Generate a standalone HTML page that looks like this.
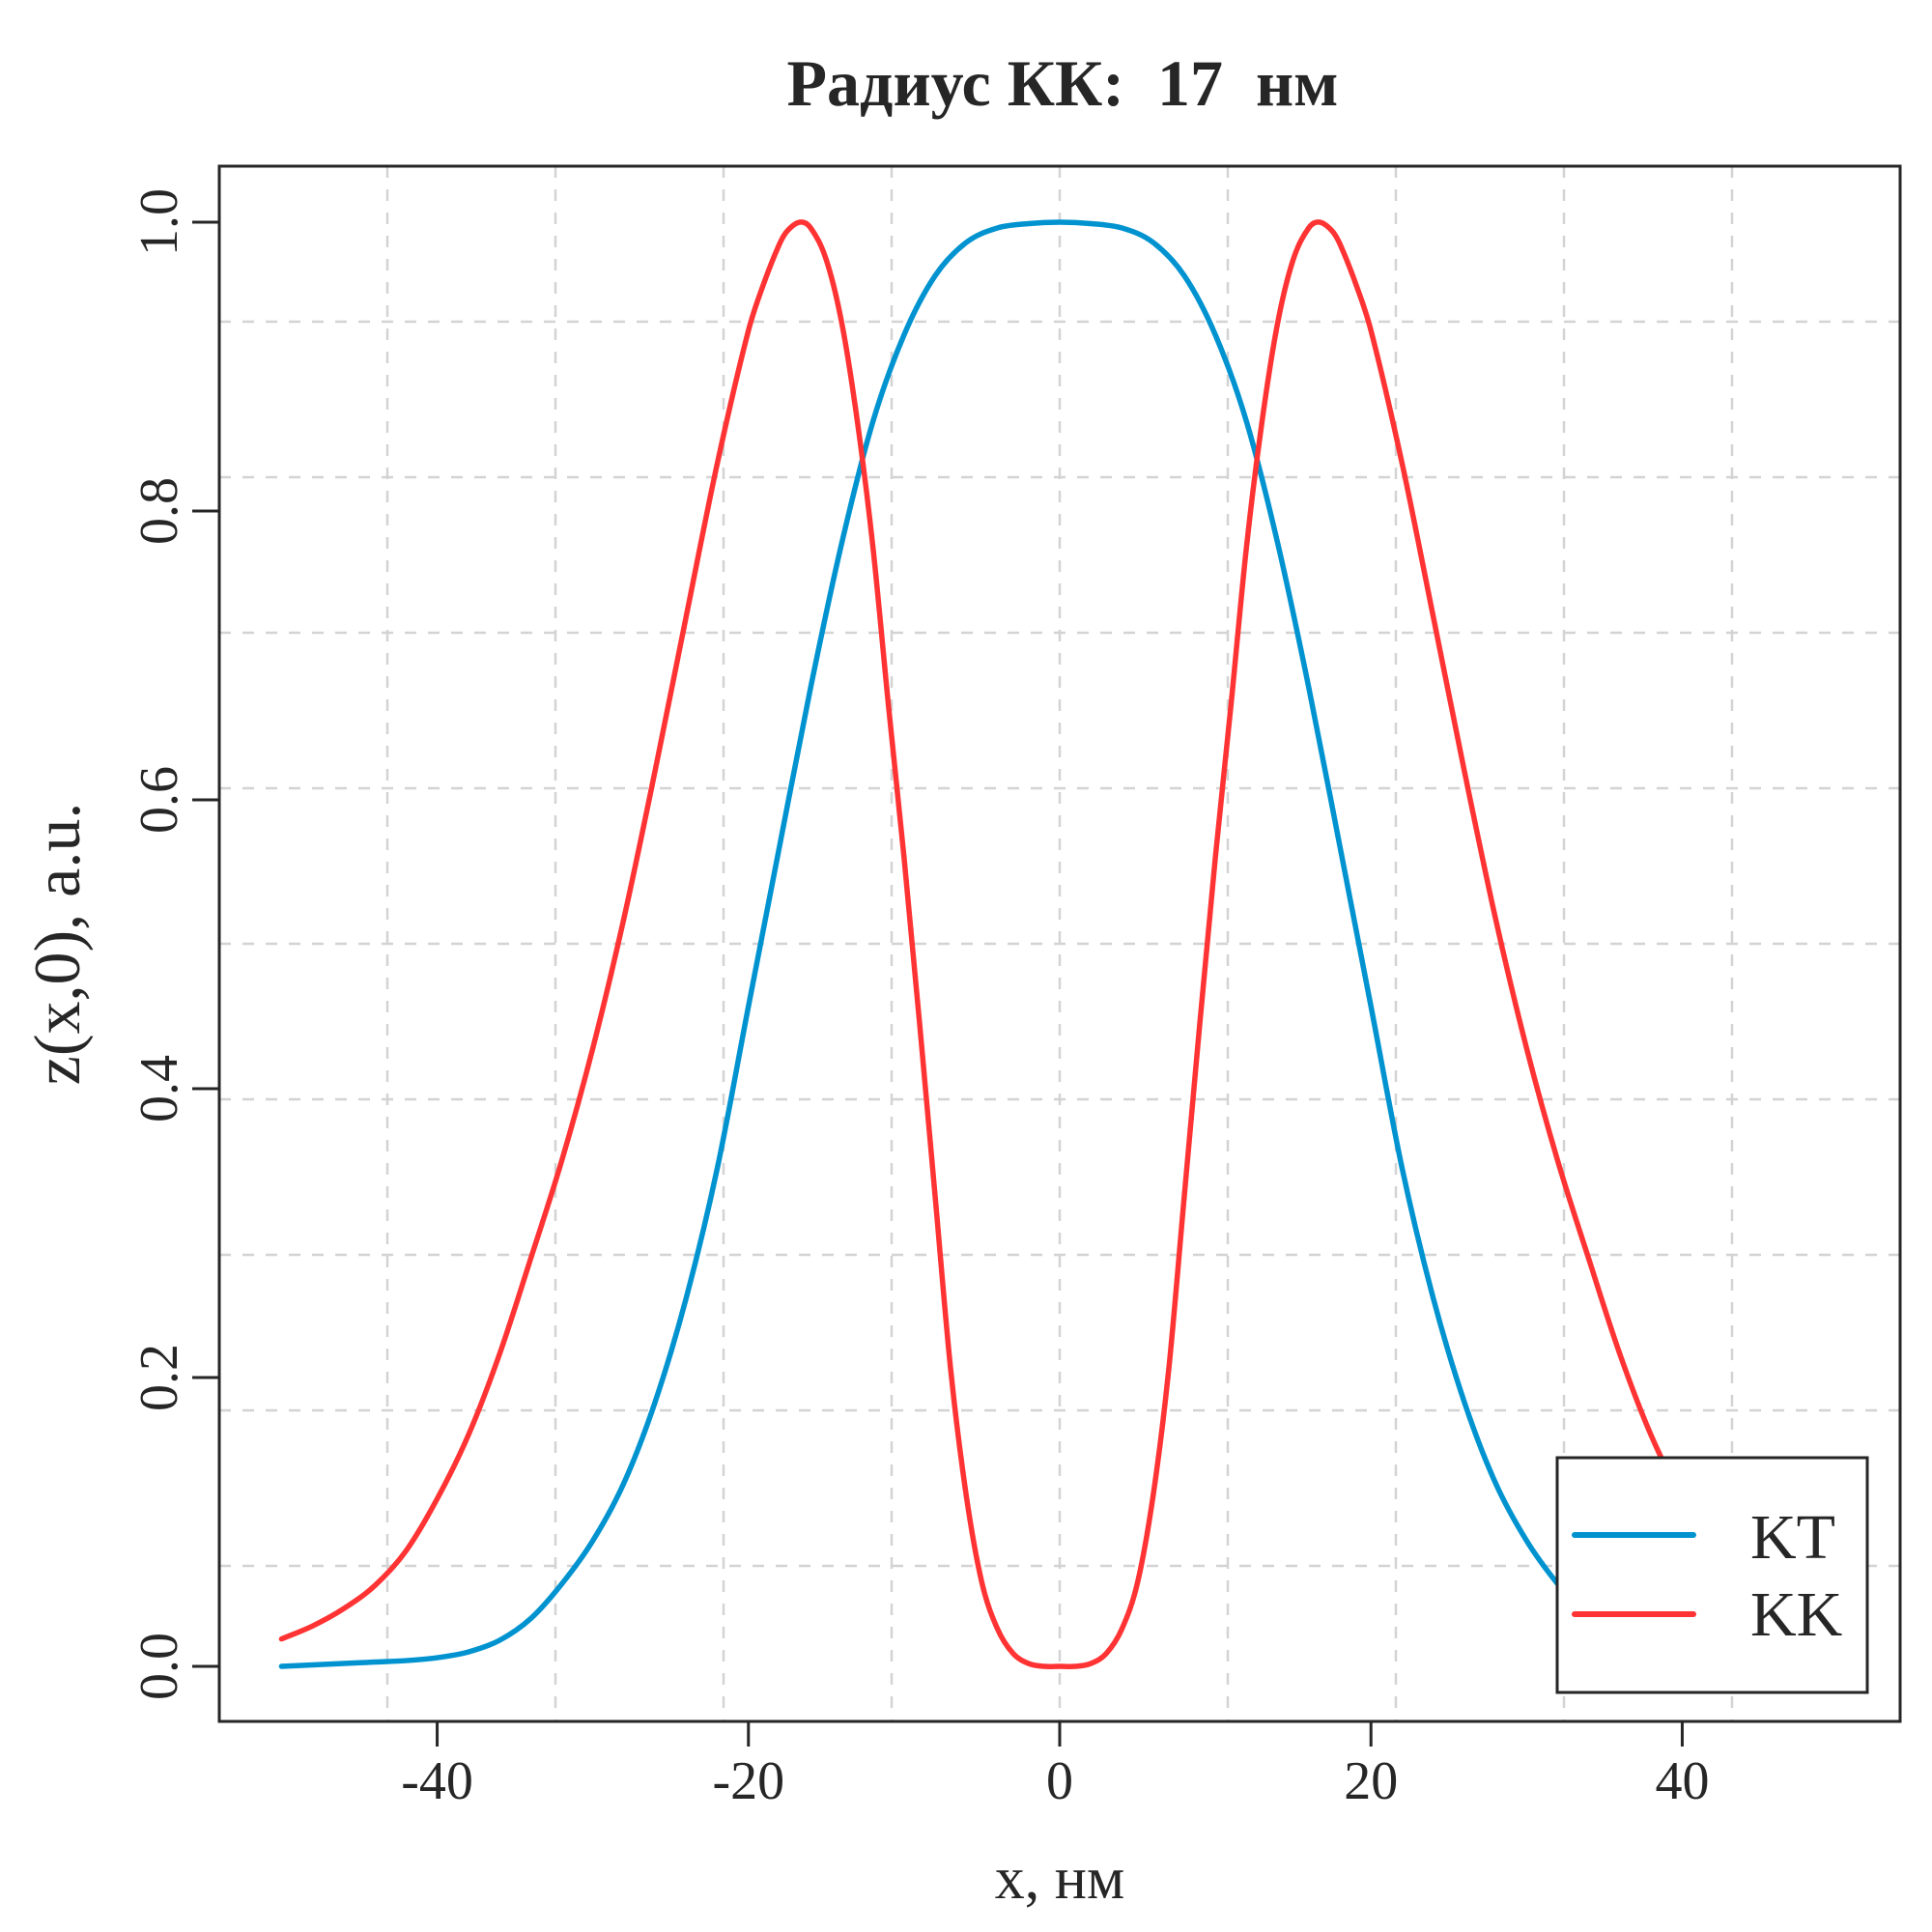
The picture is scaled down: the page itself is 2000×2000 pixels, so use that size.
<!DOCTYPE html>
<html><head><meta charset="utf-8"><style>
html,body{margin:0;padding:0;background:#fff;}
svg{display:block;font-family:"Liberation Serif","DejaVu Serif",serif;}
</style></head><body>
<svg id="chart" width="2000" height="2000" viewBox="0 0 2000 2000" xmlns="http://www.w3.org/2000/svg">
<rect x="0" y="0" width="2000" height="2000" fill="#fff"/>
<g id="grid"></g>
<g id="series"></g>
<rect x="227" y="172" width="1740" height="1610" fill="none" stroke="#262626" stroke-width="3"/>
<g id="axes"></g>
<text x="1100" y="109" text-anchor="middle" font-size="68" font-weight="bold" fill="#262626" xml:space="preserve">Радиус КК:  17  нм</text>
<text x="1097" y="1965" text-anchor="middle" font-size="62" fill="#262626">x, нм</text>
<text transform="translate(82,977) rotate(-90)" text-anchor="middle" font-size="68" fill="#262626">z(x,0), a.u.</text>
<g>
<rect x="1612" y="1509" width="321" height="243" fill="#fff" stroke="#262626" stroke-width="3"/>
<line x1="1630" y1="1589" x2="1753" y2="1589" stroke="#0093d0" stroke-width="6" stroke-linecap="round"/>
<text x="1812" y="1613" font-size="66" fill="#262626">KT</text>
<line x1="1630" y1="1671" x2="1753" y2="1671" stroke="#ff3333" stroke-width="6" stroke-linecap="round"/>
<text x="1812" y="1693" font-size="66" fill="#262626">KK</text>
</g>
</svg>
<script>
const ktX = [-50,-48,-46,-44,-42,-40,-38,-36,-34,-32,-30,-28,-26,-24,-22,-20,-18,-16,-14,-12,-10,-8,-6,-4,-2,0,2,4,6,8,10,12,14,16,18,20,22,24,26,28,30,32,34,36,38,40,42,44,46,48,50];
const ktY = [0.0,0.001,0.002,0.003,0.004,0.006,0.010,0.018,0.033,0.057,0.087,0.127,0.183,0.255,0.345,0.457,0.568,0.678,0.778,0.862,0.922,0.963,0.986,0.996,0.999,1.0,0.999,0.996,0.986,0.963,0.922,0.862,0.778,0.678,0.568,0.457,0.345,0.255,0.183,0.127,0.087,0.057,0.033,0.018,0.010,0.006,0.004,0.003,0.002,0.001,0.0];
const kkX = [-50,-48,-46,-44,-42,-40,-38,-36,-34,-32,-30,-28,-26,-24,-22,-20,-19,-18,-17.5,-16.7,-16,-15,-14,-13,-12,-11,-10,-9,-8,-7,-6,-5,-4,-3,-2,-1,0,1,2,3,4,5,6,7,8,9,10,11,12,13,14,15,16,16.7,17.5,18,19,20,22,24,26,28,30,32,34,36,38,40,42,44,46,48,50];
const kkY = [0.019,0.028,0.040,0.056,0.080,0.116,0.160,0.216,0.282,0.350,0.428,0.518,0.620,0.727,0.833,0.925,0.958,0.985,0.994,1.0,0.996,0.974,0.930,0.862,0.775,0.665,0.560,0.445,0.325,0.205,0.118,0.058,0.026,0.009,0.002,0.0,0.0,0.0,0.002,0.009,0.026,0.058,0.118,0.205,0.325,0.445,0.560,0.665,0.775,0.862,0.930,0.974,0.996,1.0,0.994,0.985,0.958,0.925,0.833,0.727,0.620,0.518,0.428,0.350,0.282,0.216,0.160,0.116,0.080,0.056,0.040,0.028,0.019];
const xTicks = [-40,-20,0,20,40];
const xTickLabels = ["-40","-20","0","20","40"];
const yTicks = [0,0.2,0.4,0.6,0.8,1.0];
const yTickLabels = ["0.0","0.2","0.4","0.6","0.8","1.0"];

const NS="http://www.w3.org/2000/svg";
const L=227,R=1967,T=172,B=1782;
const xmin=-54,xmax=54,ymin=-0.0381,ymax=1.0388;
function sx(v){return L+(v-xmin)/(xmax-xmin)*(R-L);}
function sy(v){return B-(v-ymin)/(ymax-ymin)*(B-T);}
function mk(tag,attrs,parent){const e=document.createElementNS(NS,tag);for(const k in attrs)e.setAttribute(k,attrs[k]);parent.appendChild(e);return e;}

const grid=document.getElementById('grid');
for(let k=1;k<10;k++){
  const gx=L+k*(R-L)/10;
  const v=mk('line',{x1:gx,y1:T,x2:gx,y2:B,stroke:'#d3d3d3','stroke-width':2.5,'stroke-dasharray':'12 12'},grid);
  
  
  const gy=B-k*(B-T)/10;
  const h=mk('line',{x1:L,y1:gy,x2:R,y2:gy,stroke:'#d3d3d3','stroke-width':2.5,'stroke-dasharray':'12 12'},grid);
  
  
}

function pathFor(xs,ys){
  const p=xs.map((x,i)=>[sx(x),sy(ys[i])]);
  let d='M'+p[0][0]+','+p[0][1];
  for(let i=0;i<p.length-1;i++){
    const p0=p[i-1]||p[i],p1=p[i],p2=p[i+1],p3=p[i+2]||p[i+1];
    const h=p2[0]-p1[0];
    const t1=(p2[1]-p0[1])/(p2[0]-p0[0]||1), t2=(p3[1]-p1[1])/(p3[0]-p1[0]||1);
    d+=' C'+(p1[0]+h/3)+','+(p1[1]+t1*h/3)+' '+(p2[0]-h/3)+','+(p2[1]-t2*h/3)+' '+p2[0]+','+p2[1];
  }
  return d;
}
const series=document.getElementById('series');
const kt=mk('path',{d:pathFor(ktX,ktY),fill:'none',stroke:'#0093d0','stroke-width':5.5,'stroke-linejoin':'round','stroke-linecap':'round'},series);


const kk=mk('path',{d:pathFor(kkX,kkY),fill:'none',stroke:'#ff3333','stroke-width':5.5,'stroke-linejoin':'round','stroke-linecap':'round'},series);



const axes=document.getElementById('axes');
xTicks.forEach((v,i)=>{
  const t=mk('line',{x1:sx(v),y1:B,x2:sx(v),y2:B+26,stroke:'#262626','stroke-width':3},axes);
  
  
  const l=mk('text',{x:sx(v),y:1862,'text-anchor':'middle','font-size':56,fill:'#262626'},axes);
  l.textContent=xTickLabels[i];
  
  
});
yTicks.forEach((v,i)=>{
  const t=mk('line',{x1:L-28,y1:sy(v),x2:L,y2:sy(v),stroke:'#262626','stroke-width':3},axes);
  
  
  const l=mk('text',{transform:'translate(183,'+sy(v)+') rotate(-90)','text-anchor':'middle','font-size':56,fill:'#262626'},axes);
  l.textContent=yTickLabels[i];
  
  
});
</script>
</body></html>
